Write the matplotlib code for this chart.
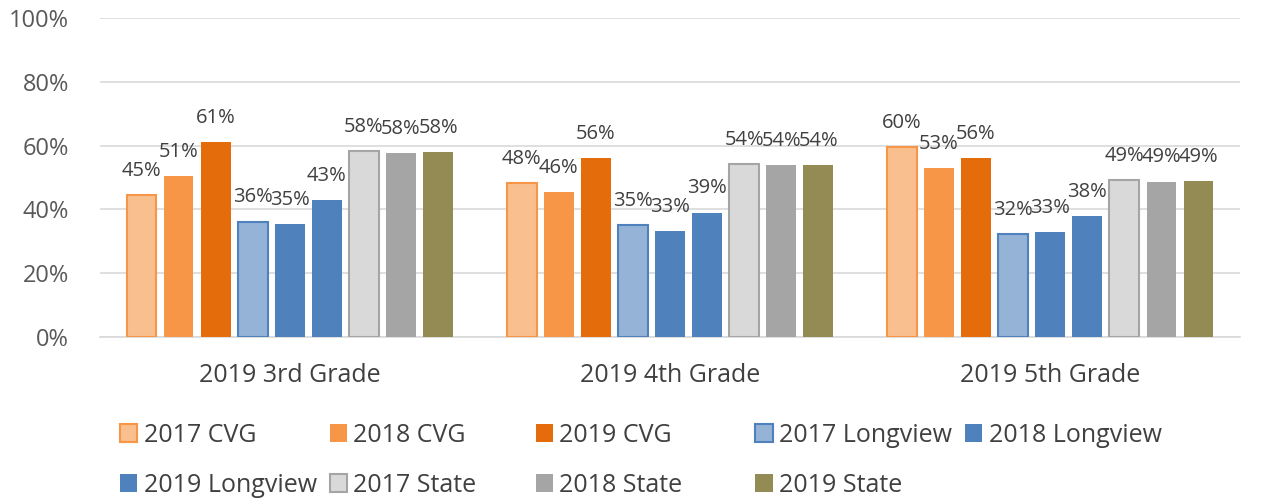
import matplotlib
matplotlib.use("Agg")
import matplotlib.pyplot as plt
import numpy as np

categories = ["2019 3rd Grade", "2019 4th Grade", "2019 5th Grade"]
series_names = ["2017 CVG", "2018 CVG", "2019 CVG",
                "2017 Longview", "2018 Longview", "2019 Longview",
                "2017 State", "2018 State", "2019 State"]
cvg_2017 = [44.6, 48.2, 59.6]
cvg_2018 = [50.5, 45.5, 53.0]
cvg_2019 = [61.0, 56.0, 56.0]
lv_2017 = [36.2, 35.2, 32.2]
lv_2018 = [35.5, 33.3, 33.0]
lv_2019 = [43.0, 39.0, 38.0]
st_2017 = [58.2, 54.2, 49.2]
st_2018 = [57.7, 54.0, 48.7]
st_2019 = [58.0, 54.0, 49.0]
series = [cvg_2017, cvg_2018, cvg_2019, lv_2017, lv_2018, lv_2019, st_2017, st_2018, st_2019]
labels = [[45, 48, 60], [51, 46, 53], [61, 56, 56],
          [36, 35, 32], [35, 33, 33], [43, 39, 38],
          [58, 54, 49], [58, 54, 49], [58, 54, 49]]

fills = ["#F9BF8F", "#F79646", "#E46C0A", "#95B3D7", "#4F81BD", "#4F81BD",
         "#D9D9D9", "#A5A5A5", "#948A54"]
edges = ["#F79646", "#F79646", "#E46C0A", "#4F81BD", "#4F81BD", "#4F81BD",
         "#A5A5A5", "#A5A5A5", "#948A54"]
lws = [1.5, 0, 0, 1.5, 0, 0, 1.5, 0, 0]

plt.rcParams['font.family'] = ['Open Sans', 'DejaVu Sans']
fig = plt.figure(figsize=(12.63, 5.03), dpi=100)
ax = fig.add_axes([0.079, 0.33, 0.903, 0.634])

x = np.arange(len(categories))
n = len(series)
step = 0.0975
width = 0.078
handles = []
for i, (vals, lab) in enumerate(zip(series, labels)):
    pos = x + (i - (n - 1) / 2) * step
    b = ax.bar(pos, vals, width, color=fills[i], edgecolor=edges[i], linewidth=lws[i],
               label=series_names[i], zorder=3)
    handles.append(b)
    for p, v, l in zip(pos, vals, lab):
        ax.text(p, v + 7.6, f"{l}%", ha="center", va="center", fontsize=14.5,
                color="#404040", zorder=4)

ax.set_xlim(-0.5, 2.5)
ax.set_ylim(0, 100)
ax.set_yticks(np.arange(0, 101, 20))
ax.set_yticklabels([f"{t}%" for t in range(0, 101, 20)], fontsize=17, color="#595959")
ax.set_xticks(x)
ax.set_xticklabels(categories, fontsize=18, color="#404040")
ax.tick_params(axis="both", length=0)
ax.tick_params(axis="x", pad=19)
ax.tick_params(axis="y", pad=22)
ax.grid(axis="y", color="#D9D9D9", linewidth=1.2, zorder=0)
for s in ["top", "right", "left"]:
    ax.spines[s].set_visible(False)
ax.spines["bottom"].set_color("#D9D9D9")
ax.spines["bottom"].set_linewidth(1.2)

# legend laid out row-major in 5 equally spaced columns
rows = [[0, 1, 2, 3, 4], [5, 6, 7, 8]]
col_x = [0.095, 0.261, 0.424, 0.598, 0.764]
row_y = [0.135, 0.035]
for r, idxs in enumerate(rows):
    for c, i in enumerate(idxs):
        lg = fig.legend([handles[i]], [series_names[i]], loc="center left",
                        bbox_to_anchor=(col_x[c], row_y[r]), frameon=False,
                        fontsize=18, handlelength=0.7, handleheight=0.7,
                        handletextpad=0.25, borderpad=0, borderaxespad=0,
                        labelcolor="#404040")

fig.savefig("out.png", dpi=100)
